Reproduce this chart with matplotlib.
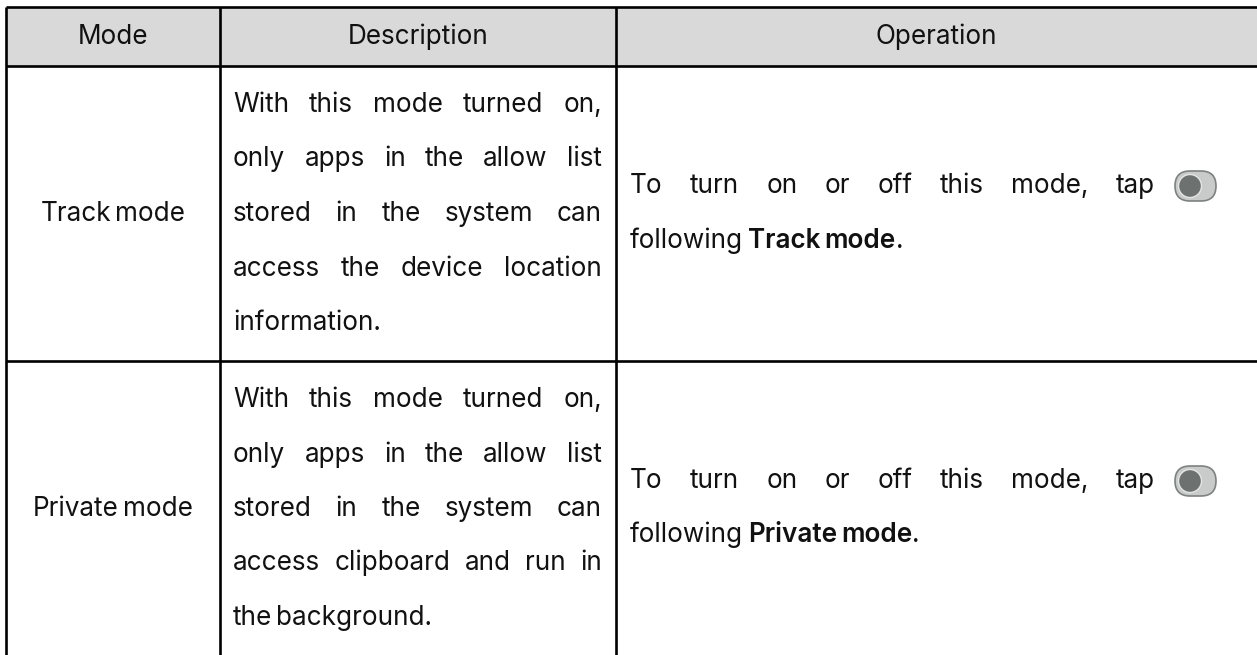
import matplotlib.pyplot as plt
from matplotlib.patches import Rectangle, FancyBboxPatch, Circle

plt.rcParams['font.family'] = ['Inter', 'DejaVu Sans']

# table content
headers = ["Mode", "Description", "Operation"]
modes = ["Track mode", "Private mode"]
descriptions = [
    ["With this mode turned on,", "only apps in the allow list",
     "stored in the system can", "access the device location", "information."],
    ["With this mode turned on,", "only apps in the allow list",
     "stored in the system can", "access clipboard and run in", "the background."],
]
op_first = "To turn on or off this mode, tap"
op_second = "following"

W, H = 1257, 655
col_x = [6, 220, 616, 1262]
row_y = [7, 66, 361, 662]
ink = "#111111"
fs = 18.8
base = 7  # baseline offset from visual line centre

fig = plt.figure(figsize=(W / 100, H / 100), dpi=100)
ax = fig.add_axes([0, 0, 1, 1])
ax.set_xlim(0, W)
ax.set_ylim(H, 0)
ax.axis("off")
renderer = fig.canvas.get_renderer()


def width_of(t):
    return t.get_window_extent(renderer).width


def words_at(line, x0, y, x1=None, small_gap=4, **kw):
    # justified when x1 given, otherwise tight spacing like the original
    words = line.split(" ")
    texts = [ax.text(0, y + base, w, fontsize=fs, color=ink, va="baseline", ha="left", **kw)
             for w in words]
    widths = [width_of(t) for t in texts]
    if x1 is not None and len(words) > 1:
        gap = (x1 - x0 - sum(widths)) / (len(words) - 1)
    else:
        gap = small_gap
    x = x0
    for t, w in zip(texts, widths):
        t.set_x(x)
        x += w + gap
    return x - gap, texts


# header fill
ax.add_patch(Rectangle((col_x[0], row_y[0]), col_x[3] - col_x[0], row_y[1] - row_y[0],
                       facecolor="#d9d9d9", edgecolor="none"))

# grid lines
lw = 1.9
for x in col_x:
    ax.plot([x, x], [row_y[0], H + 5], color="black", lw=lw, solid_capstyle="butt")
for y in row_y[:3]:
    ax.plot([col_x[0], W + 5], [y, y], color="black", lw=lw, solid_capstyle="butt")

# header text
head_cx = [113, 418, 936]
for cx, h in zip(head_cx, headers):
    ax.text(cx, 37 + base, h, fontsize=fs, color=ink, ha="center", va="baseline")

line_gap = 54.5
for r in range(2):
    top = [105, 400][r]
    mid = top + 2 * line_gap
    # mode name, centred, tight space
    end, texts = words_at(modes[r], 0, mid)
    shift = 113 - end / 2
    for t in texts:
        t.set_x(t.get_position()[0] + shift)

    lines = descriptions[r]
    for k, line in enumerate(lines):
        if k < len(lines) - 1:
            words_at(line, 233, top + k * line_gap, x1=602)
        else:
            words_at(line, 233, top + k * line_gap)

    # operation column
    y1 = mid - 28
    words_at(op_first, 630, y1, x1=1155)
    # toggle icon
    tx, tw, th = 1175, 41, 30
    ax.add_patch(FancyBboxPatch((tx, y1 - th / 2), tw, th,
                                boxstyle=f"round,pad=0,rounding_size={th / 2}",
                                facecolor="#c8cbca", edgecolor="#7d8281", lw=1.2))
    ax.add_patch(Circle((tx + th / 2, y1), 11.5, facecolor="#6d7271",
                        edgecolor="#e4e6e5", lw=1.0))
    y2 = y1 + line_gap
    end, _ = words_at(op_second, 630, y2)
    end, _ = words_at(modes[r], end + 5, y2, fontweight="semibold")
    ax.text(end, y2 + base, ".", fontsize=fs, color=ink, va="baseline", ha="left")

fig.savefig("out.png", dpi=100)
